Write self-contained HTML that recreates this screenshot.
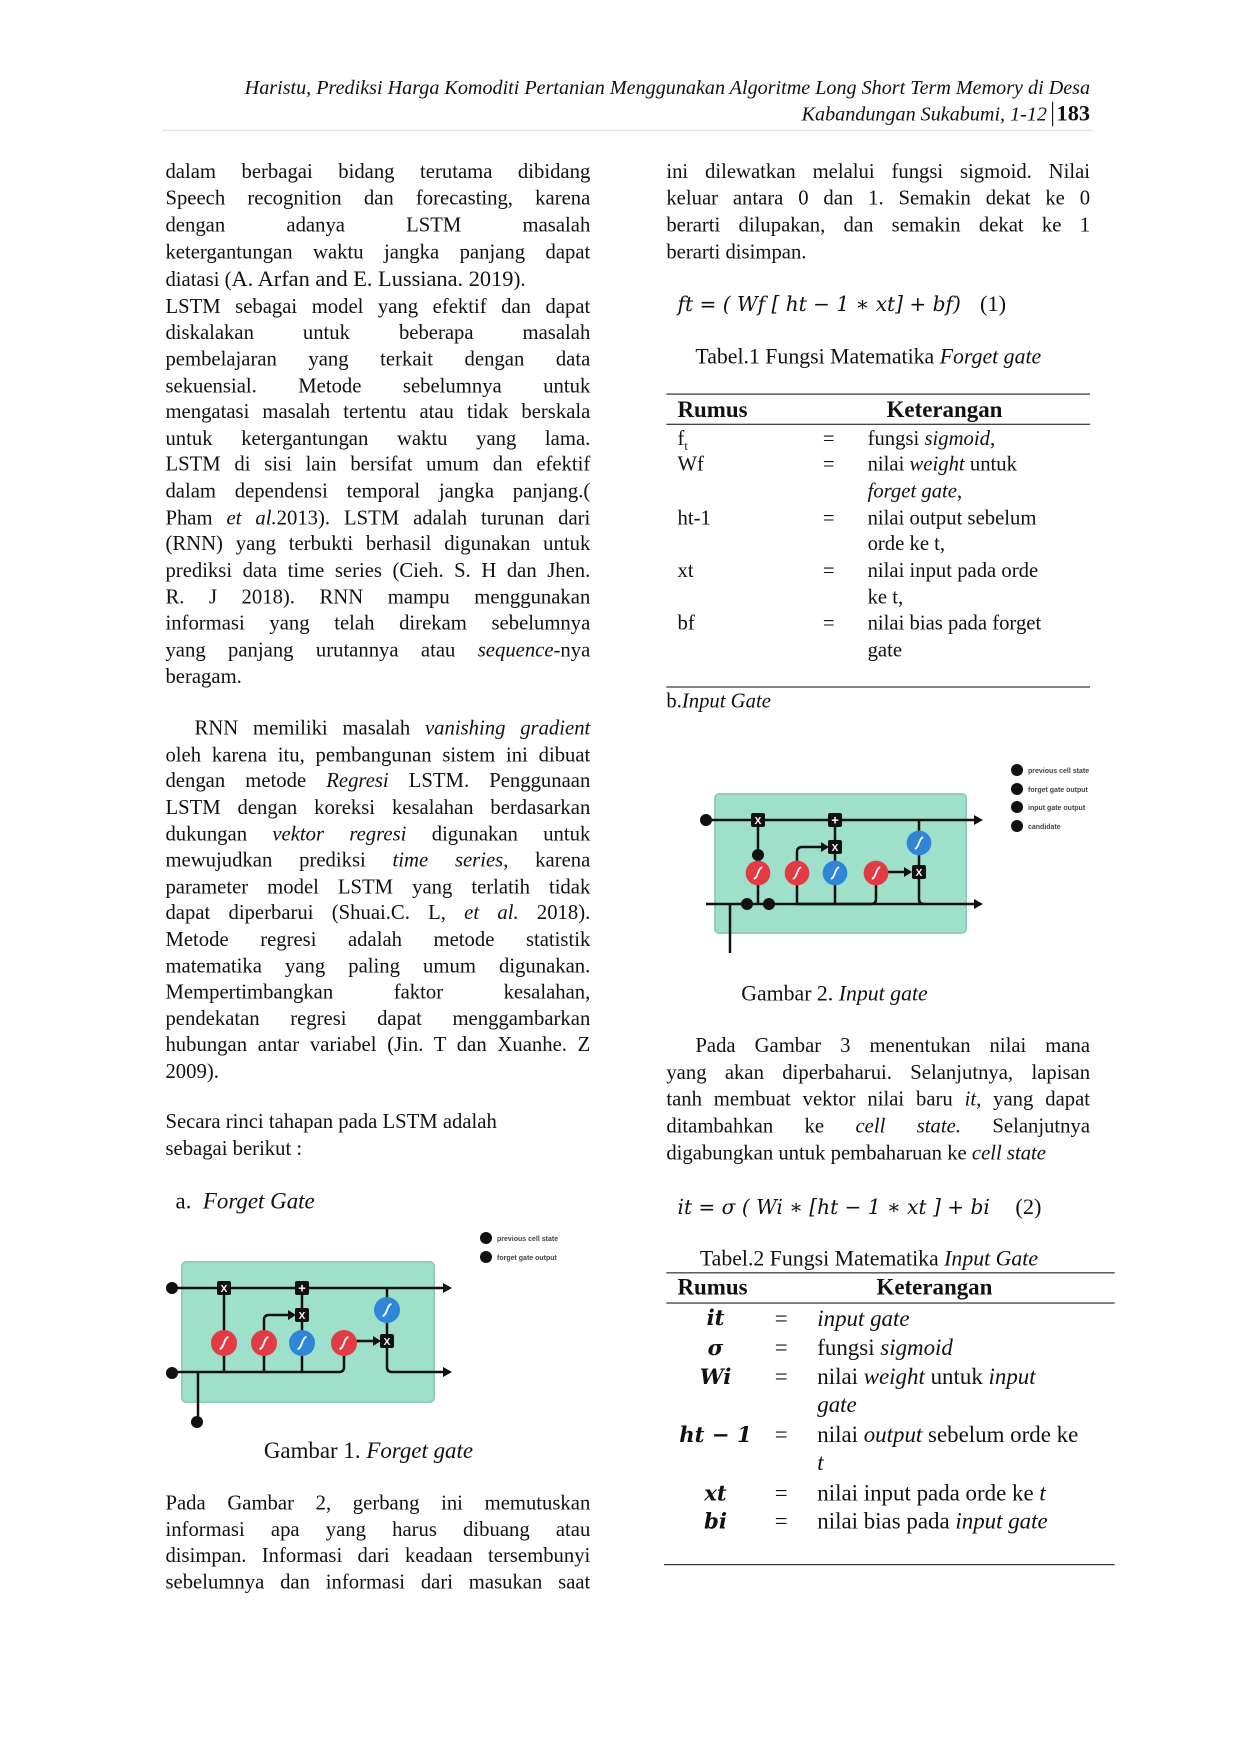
<!DOCTYPE html>
<html><head><meta charset="utf-8">
<style>
html,body{margin:0;padding:0;background:#fff;}
body{width:1241px;height:1753px;position:relative;overflow:hidden;}
#p{position:absolute;left:0;top:0;width:1110px;height:1568px;transform:scale(1.118);transform-origin:0 0;font-family:"Liberation Serif",serif;font-size:18.5px;color:#111;}
.l{position:absolute;left:148px;width:380px;line-height:24px;white-space:nowrap;}
.r{left:596px;width:379px;}
.j{text-align:justify;text-align-last:justify;white-space:normal;height:24px;}
.h{position:absolute;right:135px;font-style:italic;font-size:18px;white-space:nowrap;line-height:22px;}
.t{position:absolute;line-height:24px;white-space:nowrap;}
.hr{position:absolute;height:0;border-top:1.5px solid #222;}
svg{position:absolute;left:0;top:0;}
</style></head><body>
<div id="p">
<div class="h" style="top:67px">Haristu, Prediksi Harga Komoditi Pertanian Menggunakan Algoritme Long Short Term Memory di Desa</div>
<div class="h" style="top:91px">Kabandungan Sukabumi, 1-12 <span style="font-style:normal;font-weight:bold;font-size:20px;border-left:1.5px solid #111;padding-left:3px">183</span></div>
<div style="position:absolute;left:145px;top:116px;width:833px;border-top:1px solid #ddd"></div>

<div class="l j" style="top:142px">dalam berbagai bidang terutama dibidang</div>
<div class="l j" style="top:166px">Speech recognition dan forecasting, karena</div>
<div class="l j" style="top:190px">dengan adanya LSTM masalah</div>
<div class="l j" style="top:214px">ketergantungan waktu jangka panjang dapat</div>
<div class="l" style="top:238px">diatasi (<span style="font-size:20px">A. Arfan and E. Lussiana. 2019</span>).</div>
<div class="l j" style="top:263px">LSTM sebagai model yang efektif dan dapat</div>
<div class="l j" style="top:286px">diskalakan untuk beberapa masalah</div>
<div class="l j" style="top:310px">pembelajaran yang terkait dengan data</div>
<div class="l j" style="top:334px">sekuensial. Metode sebelumnya untuk</div>
<div class="l j" style="top:357px">mengatasi masalah tertentu atau tidak berskala</div>
<div class="l j" style="top:381px">untuk ketergantungan waktu yang lama.</div>
<div class="l j" style="top:404px">LSTM di sisi lain bersifat umum dan efektif</div>
<div class="l j" style="top:428px">dalam dependensi temporal jangka panjang.(</div>
<div class="l j" style="top:452px">Pham <i>et al.</i>2013). LSTM adalah turunan dari</div>
<div class="l j" style="top:475px">(RNN) yang terbukti berhasil digunakan untuk</div>
<div class="l j" style="top:499px">prediksi data time series (Cieh. S. H dan Jhen.</div>
<div class="l j" style="top:523px">R. J 2018). RNN mampu menggunakan</div>
<div class="l j" style="top:546px">informasi yang telah direkam sebelumnya</div>
<div class="l j" style="top:570px">yang panjang urutannya atau <i>sequence</i>-nya</div>
<div class="l" style="top:594px">beragam.</div>

<div class="l j" style="top:640px;left:174px;width:354px">RNN memiliki masalah <i>vanishing gradient</i></div>
<div class="l j" style="top:664px">oleh karena itu, pembangunan sistem ini dibuat</div>
<div class="l j" style="top:687px">dengan metode <i>Regresi</i> LSTM. Penggunaan</div>
<div class="l j" style="top:711px">LSTM dengan koreksi kesalahan berdasarkan</div>
<div class="l j" style="top:735px">dukungan <i>vektor regresi</i> digunakan untuk</div>
<div class="l j" style="top:758px">mewujudkan prediksi <i>time series</i>, karena</div>
<div class="l j" style="top:782px">parameter model LSTM yang terlatih tidak</div>
<div class="l j" style="top:805px">dapat diperbarui (Shuai.C. L, <i>et al.</i> 2018).</div>
<div class="l j" style="top:829px">Metode regresi adalah metode statistik</div>
<div class="l j" style="top:853px">matematika yang paling umum digunakan.</div>
<div class="l j" style="top:876px">Mempertimbangkan faktor kesalahan,</div>
<div class="l j" style="top:900px">pendekatan regresi dapat menggambarkan</div>
<div class="l j" style="top:923px">hubungan antar variabel (Jin. T dan Xuanhe. Z</div>
<div class="l" style="top:947px">2009).</div>

<div class="l" style="top:992px">Secara rinci tahapan pada LSTM adalah</div>
<div class="l" style="top:1016px">sebagai berikut :</div>
<div class="t" style="top:1063px;left:157px;font-size:20.5px">a.&nbsp; <i>Forget Gate</i></div>
<div class="t" style="top:1286px;left:236px;font-size:20.5px">Gambar 1. <i>Forget gate</i></div>

<div class="l j" style="top:1333px">Pada Gambar 2, gerbang ini memutuskan</div>
<div class="l j" style="top:1357px">informasi apa yang harus dibuang atau</div>
<div class="l j" style="top:1380px">disimpan. Informasi dari keadaan tersembunyi</div>
<div class="l j" style="top:1404px">sebelumnya dan informasi dari masukan saat</div>

<!-- right column -->
<div class="l r j" style="top:142px">ini dilewatkan melalui fungsi sigmoid. Nilai</div>
<div class="l r j" style="top:166px">keluar antara 0 dan 1. Semakin dekat ke 0</div>
<div class="l r j" style="top:190px">berarti dilupakan, dan semakin dekat ke 1</div>
<div class="l r" style="top:214px">berarti disimpan.</div>
<div class="t" style="top:260px;left:606px;font-family:'DejaVu Serif',serif;font-style:italic;font-size:18px">ft = ( Wf [ ht − 1 ∗ xt] + bf)&nbsp;&nbsp; <span style="font-style:normal;font-family:'Liberation Serif',serif;font-size:20px">(1)</span></div>
<div class="t" style="top:308px;left:622px;font-size:19.5px">Tabel.1 Fungsi Matematika <i>Forget gate</i></div>
<div class="hr" style="top:352px;left:596px;width:379px"></div>
<div class="t" style="top:355px;left:606px;font-weight:bold;font-size:20.5px">Rumus</div>
<div class="t" style="top:355px;left:793px;font-weight:bold;font-size:20.5px">Keterangan</div>
<div class="hr" style="top:379px;left:596px;width:379px"></div>
<div class="t" style="top:381px;left:606px">f<sub style="font-size:11px">t</sub></div>
<div class="t" style="top:404px;left:606px">Wf</div>
<div class="t" style="top:452px;left:606px">ht-1</div>
<div class="t" style="top:499px;left:606px">xt</div>
<div class="t" style="top:546px;left:606px">bf</div>
<div class="t" style="top:381px;left:736px">=</div>
<div class="t" style="top:404px;left:736px">=</div>
<div class="t" style="top:452px;left:736px">=</div>
<div class="t" style="top:499px;left:736px">=</div>
<div class="t" style="top:546px;left:736px">=</div>
<div class="t" style="top:381px;left:776px">fungsi <i>sigmoid</i>,</div>
<div class="t" style="top:404px;left:776px">nilai <i>weight</i> untuk</div>
<div class="t" style="top:428px;left:776px"><i>forget gate</i>,</div>
<div class="t" style="top:452px;left:776px">nilai output sebelum</div>
<div class="t" style="top:475px;left:776px">orde ke t,</div>
<div class="t" style="top:499px;left:776px">nilai input pada orde</div>
<div class="t" style="top:523px;left:776px">ke t,</div>
<div class="t" style="top:546px;left:776px">nilai bias pada forget</div>
<div class="t" style="top:570px;left:776px">gate</div>
<div class="hr" style="top:614px;left:596px;width:379px"></div>
<div class="t" style="top:616px;left:596px">b.<i>Input Gate</i></div>
<div class="t" style="top:878px;left:663px;font-size:19.5px">Gambar 2. <i>Input gate</i></div>

<div class="l r j" style="top:924px;left:622px;width:353px">Pada Gambar 3 menentukan nilai mana</div>
<div class="l r j" style="top:948px">yang akan diperbaharui. Selanjutnya, lapisan</div>
<div class="l r j" style="top:972px">tanh membuat vektor nilai baru <i>it</i>, yang dapat</div>
<div class="l r j" style="top:996px">ditambahkan ke <i>cell state.</i> Selanjutnya</div>
<div class="l r" style="top:1020px">digabungkan untuk pembaharuan ke <i>cell state</i></div>
<div class="t" style="top:1068px;left:606px;font-family:'DejaVu Serif',serif;font-style:italic;font-size:18px">it = σ ( Wi ∗ [ht − 1 ∗ xt ] + bi&nbsp;&nbsp;&nbsp; <span style="font-style:normal;font-family:'Liberation Serif',serif;font-size:20px">(2)</span></div>
<div class="t" style="top:1115px;left:626px;font-size:19.5px">Tabel.2 Fungsi Matematika <i>Input Gate</i></div>
<div class="hr" style="top:1138px;left:596px;width:401px"></div>
<div class="t" style="top:1140px;left:606px;font-weight:bold;font-size:20.5px">Rumus</div>
<div class="t" style="top:1140px;left:784px;font-weight:bold;font-size:20.5px">Keterangan</div>
<div class="hr" style="top:1165px;left:596px;width:401px"></div>
<div style="position:absolute;left:600px;top:0;width:80px;font-family:'DejaVu Serif',serif;font-style:italic;font-weight:bold;font-size:19px;text-align:center">
<div class="t" style="top:1167px;width:80px">it</div>
<div class="t" style="top:1194px;width:80px">σ</div>
<div class="t" style="top:1220px;width:80px">Wi</div>
<div class="t" style="top:1272px;width:80px">ht − 1</div>
<div class="t" style="top:1324px;width:80px">xt</div>
<div class="t" style="top:1349px;width:80px">bi</div>
</div>
<div style="font-size:20.5px">
<div class="t" style="top:1168px;left:693px">=</div>
<div class="t" style="top:1194px;left:693px">=</div>
<div class="t" style="top:1220px;left:693px">=</div>
<div class="t" style="top:1272px;left:693px">=</div>
<div class="t" style="top:1324px;left:693px">=</div>
<div class="t" style="top:1349px;left:693px">=</div>
<div class="t" style="top:1168px;left:731px"><i>input gate</i></div>
<div class="t" style="top:1194px;left:731px">fungsi <i>sigmoid</i></div>
<div class="t" style="top:1220px;left:731px">nilai <i>weight</i> untuk <i>input</i></div>
<div class="t" style="top:1245px;left:731px"><i>gate</i></div>
<div class="t" style="top:1272px;left:731px">nilai <i>output</i> sebelum orde ke</div>
<div class="t" style="top:1297px;left:731px"><i>t</i></div>
<div class="t" style="top:1324px;left:731px">nilai input pada orde ke <i>t</i></div>
<div class="t" style="top:1349px;left:731px">nilai bias pada <i>input gate</i></div>
</div>
<div class="hr" style="top:1399px;left:594px;width:403px"></div>
</div>

<svg width="1241" height="1753" viewBox="0 0 1241 1753" xmlns="http://www.w3.org/2000/svg">
<defs>
<g id="sr"><circle r="13" fill="#e23b43"/><path d="M-4.5 6 C0 6 0 -6 4.5 -6" stroke="#fff" stroke-width="1.8" fill="none"/></g>
<g id="sb"><circle r="13" fill="#2f86d8"/><path d="M-4.5 6 C0 6 0 -6 4.5 -6" stroke="#fff" stroke-width="1.8" fill="none"/></g>
<g id="gx"><rect x="-7" y="-7" width="14" height="14" rx="2" fill="#111"/><text x="0" y="4" font-size="10" font-weight="bold" fill="#fff" text-anchor="middle" font-family="Liberation Sans,sans-serif">X</text></g>
<g id="gp"><rect x="-7" y="-7" width="14" height="14" rx="2" fill="#111"/><text x="0" y="4.5" font-size="13" font-weight="bold" fill="#fff" text-anchor="middle" font-family="Liberation Sans,sans-serif">+</text></g>
<g id="dot"><circle r="6" fill="#111"/></g>
</defs>

<!-- Figure 1 -->
<g>
<rect x="182" y="1262" width="252" height="140" rx="4" fill="#9fe0cb" stroke="#8dcfba" stroke-width="2"/>
<g stroke="#111" stroke-width="2.5" fill="none">
<line x1="172" y1="1288" x2="444" y2="1288"/>
<path d="M172 1372 H339 Q344 1372 344 1367 V1343"/>
<line x1="198" y1="1372" x2="198" y2="1422"/>
<line x1="224" y1="1288" x2="224" y2="1372"/>
<path d="M264 1372 V1320 Q264 1315 269 1315 H292"/>
<line x1="302" y1="1288" x2="302" y2="1372"/>
<line x1="344" y1="1341" x2="377" y2="1341"/>
<path d="M387 1288 V1367 Q387 1372 392 1372 H444"/>
</g>
<polygon points="452,1288 443,1283 443,1293" fill="#111"/>
<polygon points="452,1372 443,1367 443,1377" fill="#111"/>
<polygon points="296,1315 288,1310 288,1320" fill="#111"/>
<polygon points="381,1341 373,1336 373,1346" fill="#111"/>
<use href="#dot" x="172" y="1288"/><use href="#dot" x="172" y="1373"/><use href="#dot" x="197" y="1422"/>
<use href="#gx" x="224" y="1288"/><use href="#gp" x="302" y="1288"/><use href="#gx" x="302" y="1315"/><use href="#gx" x="387" y="1341"/>
<use href="#sr" x="224" y="1343"/><use href="#sr" x="264" y="1343"/><use href="#sb" x="302" y="1343"/><use href="#sr" x="344" y="1343"/><use href="#sb" x="387" y="1310"/>
<use href="#dot" x="486" y="1238"/><use href="#dot" x="486" y="1257"/>
<g font-family="Liberation Sans,sans-serif" font-size="7" font-weight="bold" fill="#444">
<text x="497" y="1241">previous cell state</text><text x="497" y="1260">forget gate output</text></g>
</g>

<!-- Figure 2 -->
<g>
<rect x="715" y="794" width="251" height="139" rx="4" fill="#9fe0cb" stroke="#8dcfba" stroke-width="2"/>
<g stroke="#111" stroke-width="2.5" fill="none">
<line x1="706" y1="820" x2="975" y2="820"/>
<line x1="706" y1="904" x2="975" y2="904"/>
<line x1="730" y1="904" x2="730" y2="953"/>
<line x1="758" y1="820" x2="758" y2="904"/>
<path d="M797 904 V852 Q797 847 802 847 H825"/>
<line x1="835" y1="820" x2="835" y2="904"/>
<path d="M797 904 H871 Q876 904 876 899 V873"/>
<line x1="876" y1="872" x2="908" y2="872"/>
<path d="M919 820 V899 Q919 904 924 904"/>
</g>
<polygon points="983,820 974,815 974,825" fill="#111"/>
<polygon points="983,904 974,899 974,909" fill="#111"/>
<polygon points="829,847 821,842 821,852" fill="#111"/>
<polygon points="912,872 904,867 904,877" fill="#111"/>
<use href="#dot" x="706" y="820"/>
<use href="#dot" x="747" y="904"/><use href="#dot" x="769" y="904"/><use href="#dot" x="758" y="855"/>
<use href="#gx" x="758" y="820"/><use href="#gp" x="835" y="820"/><use href="#gx" x="835" y="847"/><use href="#gx" x="919" y="872"/>
<g transform="translate(758,873) scale(0.95)"><use href="#sr"/></g>
<g transform="translate(797,873) scale(0.95)"><use href="#sr"/></g>
<g transform="translate(835,873) scale(0.95)"><use href="#sb"/></g>
<g transform="translate(876,873) scale(0.95)"><use href="#sr"/></g>
<g transform="translate(919,843) scale(0.95)"><use href="#sb"/></g>
<use href="#dot" x="1017" y="770"/><use href="#dot" x="1017" y="789"/><use href="#dot" x="1017" y="807"/><use href="#dot" x="1017" y="826"/>
<g font-family="Liberation Sans,sans-serif" font-size="7" font-weight="bold" fill="#444">
<text x="1028" y="773">previous cell state</text><text x="1028" y="792">forget gate output</text><text x="1028" y="810">input gate output</text><text x="1028" y="829">candidate</text></g>
</g>
</svg>
</body></html>
